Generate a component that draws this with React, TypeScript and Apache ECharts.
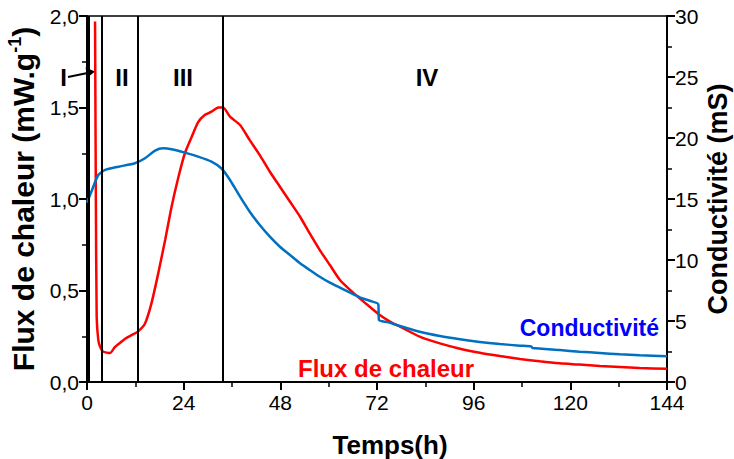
import React, { useEffect, useRef } from "react";
import * as echarts from "echarts";

const timeTicks = [0, 24, 48, 72, 96, 120, 144];
const phaseBounds = [0.35, 3.6, 12.7, 33.7];
const phaseLabels = ["I", "II", "III", "IV"];

const fluxT = [2.0, 2.2, 2.4, 2.8, 3.3, 4.0, 5.0, 5.7, 6.9, 8.0, 9.4, 11.0, 12.6, 14.4, 16.0, 17.7, 19.4, 21.0, 22.7, 24.3, 26.0, 27.6, 29.3, 30.9, 32.6, 33.8, 35.5, 38.0, 40.4, 42.9, 45.4, 47.9, 50.4, 52.9, 55.3, 57.8, 60.3, 62.8, 65.3, 67.7, 70.2, 72.7, 75.2, 77.7, 82.6, 87.6, 92.6, 97.5, 102.5, 107.5, 112.4, 117.4, 122.3, 127.3, 132.3, 137.2, 144];
const fluxV = [1.97, 1.0, 0.36, 0.23, 0.19, 0.166, 0.16, 0.158, 0.19, 0.21, 0.235, 0.255, 0.275, 0.32, 0.43, 0.595, 0.776, 0.958, 1.12, 1.25, 1.34, 1.42, 1.46, 1.477, 1.5, 1.5, 1.45, 1.404, 1.322, 1.24, 1.149, 1.067, 0.985, 0.903, 0.812, 0.721, 0.639, 0.557, 0.503, 0.457, 0.411, 0.366, 0.33, 0.302, 0.248, 0.211, 0.182, 0.16, 0.142, 0.126, 0.113, 0.102, 0.095, 0.087, 0.082, 0.0765, 0.072];

const condT = [0, 1.2, 2.8, 4.5, 7.8, 11.9, 14.4, 16.9, 18.9, 21.0, 24.3, 27.6, 30.9, 33.4, 35.5, 38.0, 40.4, 42.9, 45.4, 47.9, 50.4, 52.9, 55.3, 57.8, 60.3, 62.8, 65.3, 67.7, 70.2, 72.3, 72.5, 75.2, 77.7, 82.6, 87.6, 92.6, 97.5, 102.5, 107.5, 110.3, 110.6, 117.4, 122.3, 127.3, 132.3, 137.2, 144];
const condV = [14.7, 15.7, 16.97, 17.38, 17.65, 17.93, 18.34, 18.96, 19.15, 19.07, 18.8, 18.47, 18.06, 17.5, 16.56, 15.19, 13.96, 12.87, 11.91, 11.09, 10.41, 9.73, 9.18, 8.63, 8.14, 7.73, 7.32, 6.94, 6.66, 6.39, 5.08, 4.86, 4.59, 4.12, 3.77, 3.5, 3.28, 3.11, 2.98, 2.92, 2.79, 2.62, 2.48, 2.38, 2.27, 2.19, 2.12];

const FONT = "Liberation Sans, Arial, sans-serif";

export default function App() {
  const ref = useRef<HTMLDivElement>(null);
  useEffect(() => {
    if (!ref.current) return;
    const chart = echarts.init(ref.current, undefined, { renderer: "svg" });
    const axisCommon = {
      axisLine: { show: true, lineStyle: { color: "#000", width: 2 } },
      axisTick: { show: true, inside: false, length: 8, lineStyle: { color: "#000", width: 2 } },
      minorTick: { show: true, splitNumber: 2, length: 5, lineStyle: { color: "#000", width: 1.5 } },
      splitLine: { show: false },
      axisLabel: { color: "#000", fontSize: 21, fontFamily: FONT, margin: 8 },
    };
    chart.setOption({
      animation: false,
      backgroundColor: "#fff",
      grid: {
        left: 87, right: 67, top: 16, bottom: 77,
        containLabel: false, outerBoundsMode: "none",
        show: true, borderColor: "#000", borderWidth: 1.5,
      },
      xAxis: {
        type: "value",
        min: 0,
        max: 144,
        interval: 24,
        ...axisCommon,
        axisLabel: { ...axisCommon.axisLabel, margin: 10, formatter: (v: number) => (timeTicks.includes(v) ? String(v) : "") },
        name: "Temps(h)",
        nameLocation: "middle",
        nameGap: 50,
        nameTextStyle: { color: "#000", fontSize: 26, fontWeight: "bold", fontFamily: FONT, padding: [0, 0, 0, 26] },
      },
      yAxis: [
        {
          type: "value",
          min: 0,
          max: 2,
          interval: 0.5,
          position: "left",
          ...axisCommon,
          axisLabel: { ...axisCommon.axisLabel, formatter: (v: number) => v.toFixed(1).replace(".", ",") },
          name: "Flux de chaleur (mW.g{sup|-1})",
          nameLocation: "middle",
          nameRotate: 90,
          nameGap: 47,
          nameTextStyle: {
            color: "#000",
            fontSize: 30,
            fontWeight: "bold",
            fontFamily: FONT,
            rich: {
              sup: { fontSize: 18, fontWeight: "bold", fontFamily: FONT, color: "#000", padding: [0, 0, 16, 0] },
            },
          },
        },
        {
          type: "value",
          min: 0,
          max: 30,
          interval: 5,
          position: "right",
          ...axisCommon,
          name: "Conductivité (mS)",
          nameLocation: "middle",
          nameRotate: 90,
          nameGap: 37,
          nameMoveOverlap: false,
          nameTextStyle: { color: "#000", fontSize: 27, fontWeight: "bold", fontFamily: FONT },
        },
      ],
      series: [
        {
          name: "Flux de chaleur",
          type: "line",
          yAxisIndex: 0,
          data: fluxT.map((t, i) => [t, fluxV[i]]),
          showSymbol: false,
          symbol: "none",
          smooth: 0.2,
          lineStyle: { color: "#ff0000", width: 2.5 },
          z: 3,
          markLine: {
            silent: true,
            symbol: ["none", "none"],
            label: { show: false },
            lineStyle: { color: "#000", width: 2, type: "solid" },
            data: phaseBounds.map((b) => ({ xAxis: b })),
          },
        },
        {
          name: "Conductivité",
          type: "line",
          yAxisIndex: 1,
          data: condT.map((t, i) => [t, condV[i]]),
          showSymbol: false,
          symbol: "none",
          smooth: 0.2,
          lineStyle: { color: "#0070c0", width: 2.5 },
          z: 4,
        },
      ],
      graphic: [
        { type: "text", x: 63.5, y: 77, style: { text: phaseLabels[0], font: `bold 24px ${FONT}`, fill: "#000", align: "center", verticalAlign: "middle" } },
        { type: "text", x: 122, y: 77, style: { text: phaseLabels[1], font: `bold 24px ${FONT}`, fill: "#000", align: "center", verticalAlign: "middle" } },
        { type: "text", x: 183, y: 77, style: { text: phaseLabels[2], font: `bold 24px ${FONT}`, fill: "#000", align: "center", verticalAlign: "middle" } },
        { type: "text", x: 427, y: 77, style: { text: phaseLabels[3], font: `bold 24px ${FONT}`, fill: "#000", align: "center", verticalAlign: "middle" } },
        { type: "line", shape: { x1: 68, y1: 77, x2: 90, y2: 72.5 }, style: { stroke: "#000", lineWidth: 2 } },
        { type: "polygon", shape: { points: [[95, 71.5], [85.5, 67.5], [87.5, 77.5]] }, style: { fill: "#000" } },
        { type: "text", x: 659, y: 328, style: { text: "Conductivité", font: `bold 23px ${FONT}`, fill: "#0000ff", align: "right", verticalAlign: "middle" } },
        { type: "text", x: 386, y: 368, style: { text: "Flux de chaleur", font: `bold 24px ${FONT}`, fill: "#ff0000", align: "center", verticalAlign: "middle" } },
      ],
    });
    return () => chart.dispose();
  }, []);
  return <div ref={ref} style={{ position: "absolute", left: 0, top: 0, width: 734, height: 459 }} />;
}
